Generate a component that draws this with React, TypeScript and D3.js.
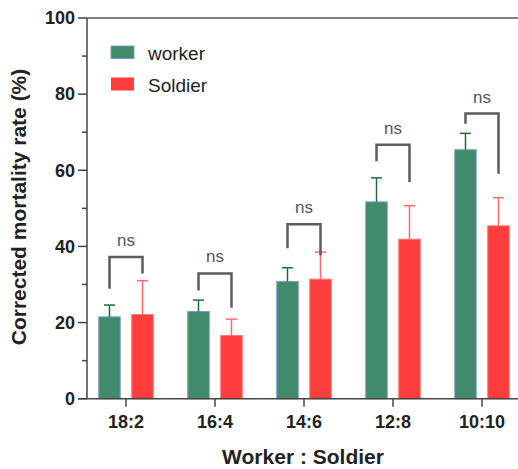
import React from "react";
import * as d3 from "d3";

// data
const categories = ["18:2", "16:4", "14:6", "12:8", "10:10"];
const workerMean = [21.5, 22.9, 30.8, 51.7, 65.4];
const workerErr = [3.1, 3.0, 3.6, 6.3, 4.3];
const soldierMean = [22.1, 16.6, 31.4, 41.9, 45.4];
const soldierErr = [8.9, 4.3, 7.1, 8.8, 7.4];
// significance brackets: top, left leg end, right leg end (in % units)
const bracketTop = [37.2, 32.9, 45.8, 66.7, 74.9];
const bracketLeft = [28.9, 28.4, 39.5, 62.4, 72.2];
const bracketRight = [32.9, 23.9, 37.7, 56.9, 59.1];
const yTicks = [0, 20, 40, 60, 80, 100];
const yMinor = d3.range(10, 100, 20);

const W = 518;
const H = 469;
const FONT = "'Liberation Sans', Arial, sans-serif";

const WORKER = "#418a6b";
const SOLDIER = "#ff3d3d";

export default function App() {
  const x0 = 87;
  const yScale = d3.scaleLinear().domain([0, 100]).range([398.7, 18]);
  const xScale = d3.scalePoint<string>().domain(categories).range([126, 482]);
  const off = 16.5;
  const bw = 21.5;
  const cap = 5.5;

  return (
    <div style={{ position: "absolute", left: 0, top: 0 }}>
      <svg width={W} height={H} style={{ display: "block", background: "#fff" }}>
        {/* bars */}
        {categories.map((c, i) => {
          const cx = xScale(c)!;
          const wx = cx - off;
          const sx = cx + off;
          return (
            <g key={c}>
              <rect x={wx - bw / 2} y={yScale(workerMean[i])} width={bw}
                height={yScale(0) - yScale(workerMean[i])} fill={WORKER}
                stroke="#7f9bd3" strokeWidth={1} />
              <line x1={wx} x2={wx} y1={yScale(workerMean[i])} y2={yScale(workerMean[i] + workerErr[i])}
                stroke="#1d6b3c" strokeWidth={1.5} />
              <line x1={wx - cap} x2={wx + cap} y1={yScale(workerMean[i] + workerErr[i])}
                y2={yScale(workerMean[i] + workerErr[i])} stroke="#1d6b3c" strokeWidth={1.5} />
              <rect x={sx - bw / 2} y={yScale(soldierMean[i])} width={bw}
                height={yScale(0) - yScale(soldierMean[i])} fill={SOLDIER}
                stroke="#ff7777" strokeWidth={1} />
              <line x1={sx} x2={sx} y1={yScale(soldierMean[i])} y2={yScale(soldierMean[i] + soldierErr[i])}
                stroke="#ff6b6b" strokeWidth={1.5} />
              <line x1={sx - cap} x2={sx + cap} y1={yScale(soldierMean[i] + soldierErr[i])}
                y2={yScale(soldierMean[i] + soldierErr[i])} stroke="#ff6b6b" strokeWidth={1.5} />
              {/* bracket */}
              <path
                d={`M${wx},${yScale(bracketLeft[i])}V${yScale(bracketTop[i])}H${sx}V${yScale(bracketRight[i])}`}
                fill="none" stroke="#5c5c5c" strokeWidth={2.5} />
              <text x={cx} y={yScale(bracketTop[i]) - 11} textAnchor="middle"
                fontFamily={FONT} fontSize={17} fill="#555">ns</text>
            </g>
          );
        })}

        {/* y axis */}
        <line x1={x0} x2={x0} y1={yScale(100)} y2={yScale(0)} stroke="#444" strokeWidth={1.5} />
        <line x1={x0} x2={W} y1={yScale(100)} y2={yScale(100)} stroke="#555" strokeWidth={1.5} />
        {yTicks.map((t) => (
          <g key={t}>
            <line x1={x0 - 9} x2={x0} y1={yScale(t)} y2={yScale(t)} stroke="#444" strokeWidth={1.5} />
            <text x={x0 - 12} y={yScale(t)} dy="0.35em" textAnchor="end" fontFamily={FONT}
              fontWeight="bold" fontSize={18} fill="#222">{t}</text>
          </g>
        ))}
        {yMinor.map((t) => (
          <line key={t} x1={x0 - 5} x2={x0} y1={yScale(t)} y2={yScale(t)} stroke="#444" strokeWidth={1.5} />
        ))}

        {/* x axis */}
        <line x1={x0 - 9} x2={W} y1={yScale(0)} y2={yScale(0)} stroke="#444" strokeWidth={1.5} />
        {categories.map((c) => (
          <g key={c}>
            <line x1={xScale(c)} x2={xScale(c)} y1={yScale(0)} y2={yScale(0) + 8} stroke="#444" strokeWidth={1.5} />
            <text x={xScale(c)} y={428} textAnchor="middle" fontFamily={FONT} fontWeight="bold"
              fontSize={18} fill="#222">{c}</text>
          </g>
        ))}

        {/* titles */}
        <text x={303} y={464} textAnchor="middle" fontFamily={FONT} fontWeight="bold" fontSize={21}
          fill="#222">Worker : Soldier</text>
        <text transform="translate(26,207) rotate(-90)" textAnchor="middle" fontFamily={FONT}
          fontWeight="bold" fontSize={21} fill="#222">Corrected mortality rate (%)</text>

        {/* legend */}
        <rect x={111} y={46} width={23} height={12.5} fill={WORKER} stroke="#7f9bd3" strokeWidth={1} />
        <text x={148} y={59.5} fontFamily={FONT} fontSize={19} fill="#222">worker</text>
        <rect x={111} y={77.5} width={23} height={13} fill={SOLDIER} />
        <text x={148} y={91.5} fontFamily={FONT} fontSize={19} fill="#222">Soldier</text>
      </svg>
    </div>
  );
}
